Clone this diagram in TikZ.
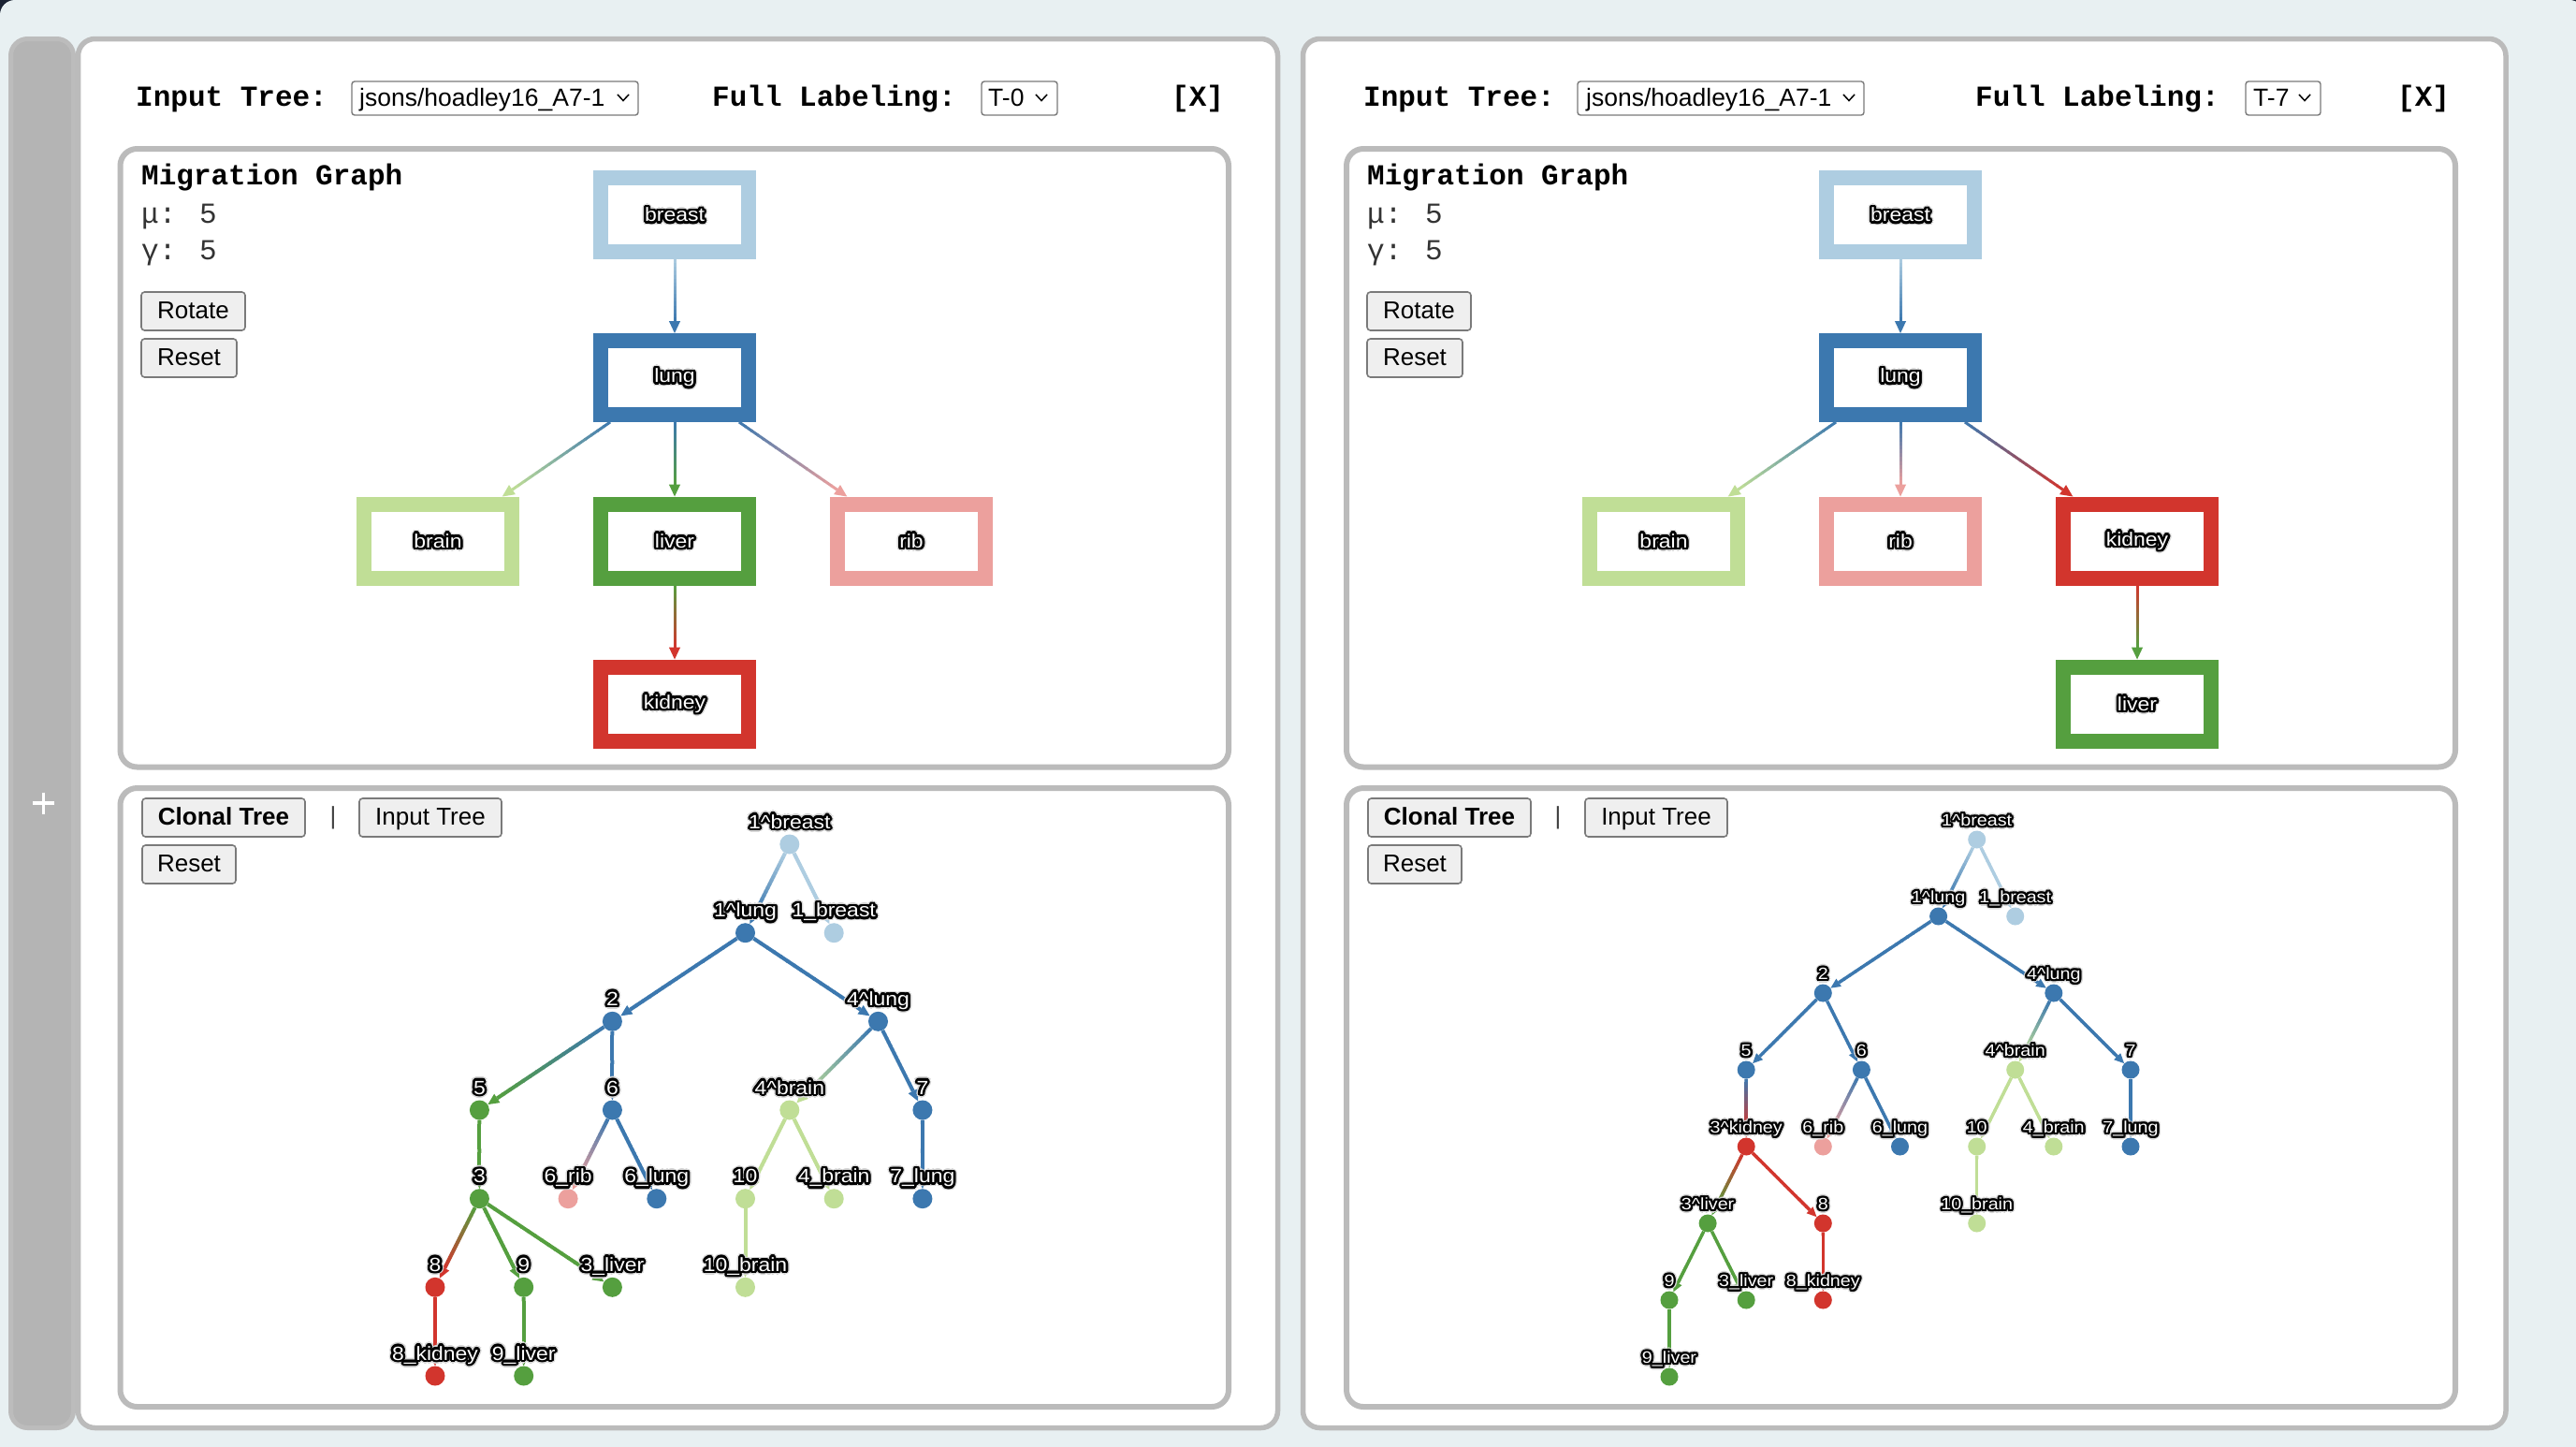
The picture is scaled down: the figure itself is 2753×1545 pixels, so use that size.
\documentclass[tikz,border=0pt]{standalone}
\usepackage{fontspec}
\setmainfont{Liberation Sans}
\newfontfamily\monof{Liberation Mono}
\newfontfamily\lblf{Liberation Sans}[FakeStretch=1.12]
\usetikzlibrary{calc}
\definecolor{cBG}{HTML}{E8F0F2}
\definecolor{cDark}{HTML}{1B2333}
\definecolor{cBar}{HTML}{B4B4B4}
\definecolor{cBarB}{HTML}{BCBCBC}
\definecolor{cPan}{HTML}{BBBBBB}
\definecolor{cBtn}{HTML}{EFEFEF}
\definecolor{cBtnB}{HTML}{7A7A7A}
\definecolor{cLB}{HTML}{AECDE1}
\definecolor{cB}{HTML}{3C78AF}
\definecolor{cLG}{HTML}{C0DE96}
\definecolor{cG}{HTML}{559F3F}
\definecolor{cP}{HTML}{ECA09D}
\definecolor{cR}{HTML}{D2352D}
\newcommand\ct{\textasciicircum}
% outlined label: white text, black outline, faint glow
\newcommand\olbl[2][2.6]{%
  \begingroup
  \setbox0=\hbox{#2}%
  \color{black!16}%
  \foreach \a in {0,30,...,330}{%
    \pgfmathsetlengthmacro\dx{(#1+1.5)*cos(\a)}%
    \pgfmathsetlengthmacro\dy{(#1+1.5)*sin(\a)}%
    \rlap{\kern\dx\raise\dy\copy0}}%
  \color{black}%
  \foreach \a in {0,22.5,...,337.5}{%
    \pgfmathsetlengthmacro\dx{#1*cos(\a)}%
    \pgfmathsetlengthmacro\dy{#1*sin(\a)}%
    \rlap{\kern\dx\raise\dy\copy0}}%
  \foreach \a in {0,45,...,315}{%
    \pgfmathsetlengthmacro\dx{0.5*#1*cos(\a)}%
    \pgfmathsetlengthmacro\dy{0.5*#1*sin(\a)}%
    \rlap{\kern\dx\raise\dy\copy0}}%
  \color{white}\box0
  \endgroup}
% gradient edge with arrow head: from, to, colour A, colour B, width, arrow length
\newcommand\gedge[6]{%
  \path (#1) -- coordinate[pos=0] (gA) coordinate[pos=1] (gB) (#2);
  \coordinate (gC) at ($(gB)!#6!(gA)$);
  \foreach \k in {0,...,15}{%
    \pgfmathsetmacro\ta{\k/16}%
    \pgfmathsetmacro\tb{min((\k+1.15)/16,1)}%
    \pgfmathsetmacro\mx{100-(\k+0.5)*100/16}%
    \draw[line width=#5, #3!\mx!#4] ($(gA)!\ta!(gC)$) -- ($(gA)!\tb!(gC)$);
  }
  \fill[#4] (gB) -- ($(gC)!0.47*#6!90:(gB)$) -- ($(gC)!0.47*#6!-90:(gB)$) -- cycle;
}
\begin{document}
\begin{tikzpicture}[x=1pt,y=-1pt,
  hdr/.style={font=\monof\bfseries\fontsize{31}{36}\selectfont, inner sep=0, anchor=base west},
  stat/.style={font=\monof\fontsize{31}{36}\selectfont, text=black!80, inner sep=0, anchor=base west},
  selbox/.style={draw=cBtnB, fill=white, line width=1.4, rounded corners=3, inner sep=0},
  seltext/.style={font=\fontsize{26.5}{30}\selectfont, inner sep=0, anchor=base west},
  chev/.style={line width=1.5, black},
  btn/.style={draw=cBtnB, fill=cBtn, line width=1.6, rounded corners=3.5, inner sep=0,
    minimum height=41, text height=19, text depth=4, font=\fontsize{26}{30}\selectfont},
  mbox/.style={draw=#1, line width=16, fill=white, minimum width=158, minimum height=79,
    inner sep=0, font=\lblf\fontsize{20.5}{24}\selectfont},
  tnodeL/.style={circle, fill=#1, minimum size=21, inner sep=0},
  tnodeR/.style={circle, fill=#1, minimum size=19, inner sep=0},
  tlblL/.style={inner sep=0, anchor=base, font=\lblf\fontsize{20.5}{24}\selectfont},
  tlblR/.style={inner sep=0, anchor=base, font=\lblf\fontsize{17.6}{20}\selectfont},
  panel/.style={draw=cPan, line width=6, fill=white, rounded corners=18}
]
\useasboundingbox (0,0) rectangle (2753,1545);
% background and window corners
\fill[cDark] (0,0) rectangle (2753,24);
\fill[cBG, rounded corners=16] (0,0) rectangle (2762,1600);
% left grey bar
\fill[cBar, draw=cBarB, line width=5, rounded corners=18] (11.5,41.5) rectangle (78.5,1525.5);
\draw[white, line width=3.5] (35,858) -- (58,858) (46.5,846.5) -- (46.5,869.5);
% outer panels
\draw[panel, line width=5.5] (83.5,41.5) rectangle (1365.5,1525.5);
\draw[panel, line width=5.5] (1392.5,41.5) rectangle (2678,1525.5);
% inner panels
\draw[panel] (128.5,159) rectangle (1313,819.5);
\draw[panel] (128.5,842) rectangle (1313,1503);
\draw[panel] (1439,159) rectangle (2624,819.5);
\draw[panel] (1439,842) rectangle (2624,1503);

% ---------- headers ----------
\node[hdr] (itL) at (145,113) {Input Tree:};
\node[selbox, minimum width=306, minimum height=36] (selL) at (529,105) {};
\node[seltext] (selLt) at (384,113) {jsons/hoadley16\_A7-1};
\draw[chev] (660,101) -- (666,107.5) -- (672,101);
\node[hdr] (flL) at (761,113) {Full Labeling:};
\node[selbox, minimum width=81, minimum height=36] (tL) at (1089.5,105) {};
\node[seltext] (tLt) at (1056,113) {T-0};
\draw[chev] (1107,101) -- (1113,107.5) -- (1119,101);
\node[hdr] (xL) at (1252,113) {[X]};

\node[hdr] (itR) at (1457,113) {Input Tree:};
\node[selbox, minimum width=306, minimum height=36] (selR) at (1839,105) {};
\node[seltext] (selRt) at (1695,113) {jsons/hoadley16\_A7-1};
\draw[chev] (1970,101) -- (1976,107.5) -- (1982,101);
\node[hdr] (flR) at (2111,113) {Full Labeling:};
\node[selbox, minimum width=80, minimum height=36] (tR) at (2440,105) {};
\node[seltext] (tRt) at (2408,113) {T-7};
\draw[chev] (2457,101) -- (2463,107.5) -- (2469,101);
\node[hdr] (xR) at (2562,113) {[X]};

% ---------- migration graph texts ----------
\node[hdr] (mgL) at (151,197) {Migration Graph};
\node[stat] (muL) at (151,238) {μ: 5};
\node[stat] (gaL) at (151,277) {γ: 5};
\node[btn, minimum width=111] (rotL) at (206.5,332.5) {Rotate};
\node[btn, minimum width=102] (resL) at (202,382.5) {Reset};

\node[hdr] (mgR) at (1461,197) {Migration Graph};
\node[stat] (muR) at (1461,238) {μ: 5};
\node[stat] (gaR) at (1461,277) {γ: 5};
\node[btn, minimum width=111] (rotR) at (1516.5,332.5) {Rotate};
\node[btn, minimum width=102] (resR) at (1512,382.5) {Reset};

% ---------- clonal tree buttons ----------
\node[btn, minimum width=174, font=\bfseries\fontsize{26}{30}\selectfont] (ctL) at (239,873.5) {Clonal Tree};
\node[inner sep=0, font=\fontsize{26}{30}\selectfont, text=black!75] (sepL) at (356,874) {|};
\node[btn, minimum width=152] (inL) at (460,873.5) {Input Tree};
\node[btn, minimum width=100] (rsL) at (202,923.5) {Reset};

\node[btn, minimum width=174, font=\bfseries\fontsize{26}{30}\selectfont] (ctR) at (1549,873.5) {Clonal Tree};
\node[inner sep=0, font=\fontsize{26}{30}\selectfont, text=black!75] (sepR) at (1665,874) {|};
\node[btn, minimum width=152] (inR) at (1770,873.5) {Input Tree};
\node[btn, minimum width=100] (rsR) at (1512,923.5) {Reset};

% ---------- migration graph left ----------
\node[mbox=cLB] (mLbreast) at (721,229.5) {\olbl{breast}};
\node[mbox=cB]  (mLlung)   at (721,403.5) {\olbl{lung}};
\node[mbox=cLG] (mLbrain)  at (468,578) {\olbl{brain}};
\node[mbox=cG]  (mLliver)  at (721,578) {\olbl{liver}};
\node[mbox=cP]  (mLrib)    at (974,578) {\olbl{rib}};
\node[mbox=cR]  (mLkidney) at (721,752) {\olbl{kidney}};
\gedge{mLbreast}{mLlung}{cLB}{cB}{3}{13pt}
\gedge{mLlung}{mLbrain}{cB}{cLG}{3}{13pt}
\gedge{mLlung}{mLliver}{cB}{cG}{3}{13pt}
\gedge{mLlung}{mLrib}{cB}{cP}{3}{13pt}
\gedge{mLliver}{mLkidney}{cG}{cR}{3}{13pt}

% ---------- migration graph right ----------
\node[mbox=cLB] (mRbreast) at (2031,229.5) {\olbl{breast}};
\node[mbox=cB]  (mRlung)   at (2031,403.5) {\olbl{lung}};
\node[mbox=cLG] (mRbrain)  at (1778,578) {\olbl{brain}};
\node[mbox=cP]  (mRrib)    at (2031,578) {\olbl{rib}};
\node[mbox=cR]  (mRkidney) at (2284,578) {\olbl{kidney}};
\node[mbox=cG]  (mRliver)  at (2284,752) {\olbl{liver}};
\gedge{mRbreast}{mRlung}{cLB}{cB}{3}{13pt}
\gedge{mRlung}{mRbrain}{cB}{cLG}{3}{13pt}
\gedge{mRlung}{mRrib}{cB}{cP}{3}{13pt}
\gedge{mRlung}{mRkidney}{cB}{cR}{3}{13pt}
\gedge{mRkidney}{mRliver}{cR}{cG}{3}{13pt}

% ---------- clonal tree left ----------
\node[tnodeL=cLB] (L1b)  at (843.8,902) {};
\node[tnodeL=cB]  (L1l)  at (796.5,996.7) {};
\node[tnodeL=cLB] (L1_b) at (891.2,996.7) {};
\node[tnodeL=cB]  (L2)   at (654.4,1091.3) {};
\node[tnodeL=cB]  (L4l)  at (938.5,1091.3) {};
\node[tnodeL=cG]  (L5)   at (512.4,1186) {};
\node[tnodeL=cB]  (L6)   at (654.4,1186) {};
\node[tnodeL=cLG] (L4b)  at (843.8,1186) {};
\node[tnodeL=cB]  (L7)   at (985.9,1186) {};
\node[tnodeL=cG]  (L3)   at (512.4,1280.7) {};
\node[tnodeL=cP]  (L6r)  at (607.1,1280.7) {};
\node[tnodeL=cB]  (L6l)  at (701.8,1280.7) {};
\node[tnodeL=cLG] (L10)  at (796.5,1280.7) {};
\node[tnodeL=cLG] (L4_b) at (891.2,1280.7) {};
\node[tnodeL=cB]  (L7l)  at (985.9,1280.7) {};
\node[tnodeL=cR]  (L8)   at (465,1375.3) {};
\node[tnodeL=cG]  (L9)   at (559.7,1375.3) {};
\node[tnodeL=cG]  (L3l)  at (654.4,1375.3) {};
\node[tnodeL=cLG] (L10b) at (796.5,1375.3) {};
\node[tnodeL=cR]  (L8k)  at (465,1470) {};
\node[tnodeL=cG]  (L9l)  at (559.7,1470) {};
\gedge{L1b}{L1l}{cLB}{cB}{4}{12pt}
\gedge{L1b}{L1_b}{cLB}{cLB}{4}{12pt}
\gedge{L1l}{L2}{cB}{cB}{4}{12pt}
\gedge{L1l}{L4l}{cB}{cB}{4}{12pt}
\gedge{L2}{L5}{cB}{cG}{4}{12pt}
\gedge{L2}{L6}{cB}{cB}{4}{12pt}
\gedge{L4l}{L4b}{cB}{cLG}{4}{12pt}
\gedge{L4l}{L7}{cB}{cB}{4}{12pt}
\gedge{L5}{L3}{cG}{cG}{4}{12pt}
\gedge{L6}{L6r}{cB}{cP}{4}{12pt}
\gedge{L6}{L6l}{cB}{cB}{4}{12pt}
\gedge{L4b}{L10}{cLG}{cLG}{4}{12pt}
\gedge{L4b}{L4_b}{cLG}{cLG}{4}{12pt}
\gedge{L7}{L7l}{cB}{cB}{4}{12pt}
\gedge{L3}{L8}{cG}{cR}{4}{12pt}
\gedge{L3}{L9}{cG}{cG}{4}{12pt}
\gedge{L3}{L3l}{cG}{cG}{4}{12pt}
\gedge{L10}{L10b}{cLG}{cLG}{4}{12pt}
\gedge{L8}{L8k}{cR}{cR}{4}{12pt}
\gedge{L9}{L9l}{cG}{cG}{4}{12pt}
\node[tlblL] (L1b-t)  at ($(L1b)+(0,-17)$)  {\olbl{1\ct breast}};
\node[tlblL] (L1l-t)  at ($(L1l)+(0,-17)$)  {\olbl{1\ct lung}};
\node[tlblL] (L1_b-t) at ($(L1_b)+(0,-17)$) {\olbl{1\_breast}};
\node[tlblL] (L2-t)   at ($(L2)+(0,-17)$)   {\olbl{2}};
\node[tlblL] (L4l-t)  at ($(L4l)+(0,-17)$)  {\olbl{4\ct lung}};
\node[tlblL] (L5-t)   at ($(L5)+(0,-17)$)   {\olbl{5}};
\node[tlblL] (L6-t)   at ($(L6)+(0,-17)$)   {\olbl{6}};
\node[tlblL] (L4b-t)  at ($(L4b)+(0,-17)$)  {\olbl{4\ct brain}};
\node[tlblL] (L7-t)   at ($(L7)+(0,-17)$)   {\olbl{7}};
\node[tlblL] (L3-t)   at ($(L3)+(0,-17)$)   {\olbl{3}};
\node[tlblL] (L6r-t)  at ($(L6r)+(0,-17)$)  {\olbl{6\_rib}};
\node[tlblL] (L6l-t)  at ($(L6l)+(0,-17)$)  {\olbl{6\_lung}};
\node[tlblL] (L10-t)  at ($(L10)+(0,-17)$)  {\olbl{10}};
\node[tlblL] (L4_b-t) at ($(L4_b)+(0,-17)$) {\olbl{4\_brain}};
\node[tlblL] (L7l-t)  at ($(L7l)+(0,-17)$)  {\olbl{7\_lung}};
\node[tlblL] (L8-t)   at ($(L8)+(0,-17)$)   {\olbl{8}};
\node[tlblL] (L9-t)   at ($(L9)+(0,-17)$)   {\olbl{9}};
\node[tlblL] (L3l-t)  at ($(L3l)+(0,-17)$)  {\olbl{3\_liver}};
\node[tlblL] (L10b-t) at ($(L10b)+(0,-17)$) {\olbl{10\_brain}};
\node[tlblL] (L8k-t)  at ($(L8k)+(0,-17)$)  {\olbl{8\_kidney}};
\node[tlblL] (L9l-t)  at ($(L9l)+(0,-17)$)  {\olbl{9\_liver}};

% ---------- clonal tree right ----------
\node[tnodeR=cLB] (R1b)  at (2112.7,897) {};
\node[tnodeR=cB]  (R1l)  at (2071.6,979) {};
\node[tnodeR=cLB] (R1_b) at (2153.7,979) {};
\node[tnodeR=cB]  (R2)   at (1948.3,1061) {};
\node[tnodeR=cB]  (R4l)  at (2194.8,1061) {};
\node[tnodeR=cB]  (R5)   at (1866.2,1143) {};
\node[tnodeR=cB]  (R6)   at (1989.4,1143) {};
\node[tnodeR=cLG] (R4b)  at (2153.7,1143) {};
\node[tnodeR=cB]  (R7)   at (2277,1143) {};
\node[tnodeR=cR]  (R3k)  at (1866.2,1225) {};
\node[tnodeR=cP]  (R6r)  at (1948.3,1225) {};
\node[tnodeR=cB]  (R6l)  at (2030.5,1225) {};
\node[tnodeR=cLG] (R10)  at (2112.7,1225) {};
\node[tnodeR=cLG] (R4_b) at (2194.8,1225) {};
\node[tnodeR=cB]  (R7l)  at (2277,1225) {};
\node[tnodeR=cG]  (R3l)  at (1825.1,1307) {};
\node[tnodeR=cR]  (R8)   at (1948.3,1307) {};
\node[tnodeR=cLG] (R10b) at (2112.7,1307) {};
\node[tnodeR=cG]  (R9)   at (1784,1389) {};
\node[tnodeR=cG]  (R3_l) at (1866.2,1389) {};
\node[tnodeR=cR]  (R8k)  at (1948.3,1389) {};
\node[tnodeR=cG]  (R9l)  at (1784,1471) {};
\gedge{R1b}{R1l}{cLB}{cB}{3.5}{10.5pt}
\gedge{R1b}{R1_b}{cLB}{cLB}{3.5}{10.5pt}
\gedge{R1l}{R2}{cB}{cB}{3.5}{10.5pt}
\gedge{R1l}{R4l}{cB}{cB}{3.5}{10.5pt}
\gedge{R2}{R5}{cB}{cB}{3.5}{10.5pt}
\gedge{R2}{R6}{cB}{cB}{3.5}{10.5pt}
\gedge{R4l}{R4b}{cB}{cLG}{3.5}{10.5pt}
\gedge{R4l}{R7}{cB}{cB}{3.5}{10.5pt}
\gedge{R5}{R3k}{cB}{cR}{3.5}{10.5pt}
\gedge{R6}{R6r}{cB}{cP}{3.5}{10.5pt}
\gedge{R6}{R6l}{cB}{cB}{3.5}{10.5pt}
\gedge{R4b}{R10}{cLG}{cLG}{3.5}{10.5pt}
\gedge{R4b}{R4_b}{cLG}{cLG}{3.5}{10.5pt}
\gedge{R7}{R7l}{cB}{cB}{3.5}{10.5pt}
\gedge{R3k}{R3l}{cR}{cG}{3.5}{10.5pt}
\gedge{R3k}{R8}{cR}{cR}{3.5}{10.5pt}
\gedge{R10}{R10b}{cLG}{cLG}{3.5}{10.5pt}
\gedge{R3l}{R9}{cG}{cG}{3.5}{10.5pt}
\gedge{R3l}{R3_l}{cG}{cG}{3.5}{10.5pt}
\gedge{R8}{R8k}{cR}{cR}{3.5}{10.5pt}
\gedge{R9}{R9l}{cG}{cG}{3.5}{10.5pt}
\node[tlblR] (R1b-t)  at ($(R1b)+(0,-14.5)$)  {\olbl[2.3]{1\ct breast}};
\node[tlblR] (R1l-t)  at ($(R1l)+(0,-14.5)$)  {\olbl[2.3]{1\ct lung}};
\node[tlblR] (R1_b-t) at ($(R1_b)+(0,-14.5)$) {\olbl[2.3]{1\_breast}};
\node[tlblR] (R2-t)   at ($(R2)+(0,-14.5)$)   {\olbl[2.3]{2}};
\node[tlblR] (R4l-t)  at ($(R4l)+(0,-14.5)$)  {\olbl[2.3]{4\ct lung}};
\node[tlblR] (R5-t)   at ($(R5)+(0,-14.5)$)   {\olbl[2.3]{5}};
\node[tlblR] (R6-t)   at ($(R6)+(0,-14.5)$)   {\olbl[2.3]{6}};
\node[tlblR] (R4b-t)  at ($(R4b)+(0,-14.5)$)  {\olbl[2.3]{4\ct brain}};
\node[tlblR] (R7-t)   at ($(R7)+(0,-14.5)$)   {\olbl[2.3]{7}};
\node[tlblR] (R3k-t)  at ($(R3k)+(0,-14.5)$)  {\olbl[2.3]{3\ct kidney}};
\node[tlblR] (R6r-t)  at ($(R6r)+(0,-14.5)$)  {\olbl[2.3]{6\_rib}};
\node[tlblR] (R6l-t)  at ($(R6l)+(0,-14.5)$)  {\olbl[2.3]{6\_lung}};
\node[tlblR] (R10-t)  at ($(R10)+(0,-14.5)$)  {\olbl[2.3]{10}};
\node[tlblR] (R4_b-t) at ($(R4_b)+(0,-14.5)$) {\olbl[2.3]{4\_brain}};
\node[tlblR] (R7l-t)  at ($(R7l)+(0,-14.5)$)  {\olbl[2.3]{7\_lung}};
\node[tlblR] (R3l-t)  at ($(R3l)+(0,-14.5)$)  {\olbl[2.3]{3\ct liver}};
\node[tlblR] (R8-t)   at ($(R8)+(0,-14.5)$)   {\olbl[2.3]{8}};
\node[tlblR] (R10b-t) at ($(R10b)+(0,-14.5)$) {\olbl[2.3]{10\_brain}};
\node[tlblR] (R9-t)   at ($(R9)+(0,-14.5)$)   {\olbl[2.3]{9}};
\node[tlblR] (R3_l-t) at ($(R3_l)+(0,-14.5)$) {\olbl[2.3]{3\_liver}};
\node[tlblR] (R8k-t)  at ($(R8k)+(0,-14.5)$)  {\olbl[2.3]{8\_kidney}};
\node[tlblR] (R9l-t)  at ($(R9l)+(0,-14.5)$)  {\olbl[2.3]{9\_liver}};
\end{tikzpicture}
\end{document}
